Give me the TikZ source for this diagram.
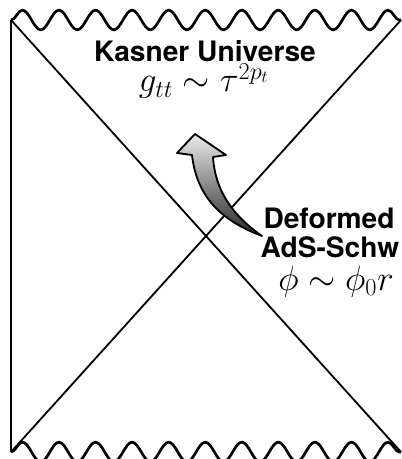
\documentclass[tikz,border=0pt]{standalone}
\usepackage{amsmath, amssymb}
\usepackage{graphicx, xcolor, tikz}
\usepackage{fontspec}
\setsansfont{TeX Gyre Heros}
\usetikzlibrary{decorations.pathmorphing,calc}
\tikzstyle{edge} = [line width=1.3pt, black]
\tikzstyle{sing} = [line width=1.9pt, black, decorate, decoration={snake, segment length=26, amplitude=7}]
\tikzstyle{arrowshade} = [draw=black, line width=1.3pt, line join=round, top color=gray!15, bottom color=black!85]
\tikzstyle{title} = [font=\sffamily\bfseries\fontsize{20}{22}\selectfont, anchor=base, inner sep=0pt]
\tikzstyle{formula} = [font=\fontsize{23}{26}\selectfont, anchor=base, inner sep=0pt]

\begin{document}
\begin{tikzpicture}[x=0.025cm, y=-0.025cm]
      \useasboundingbox (0,0) rectangle (401,459);
      % corners of the diagram
      \coordinate (tl) at (11,20);
      \coordinate (tr) at (401,20);
      \coordinate (bl) at (11,452);
      \coordinate (br) at (401,452);
      % singularities and boundary
      \draw [sing](tl)--(tr);
      \draw [sing](bl)--(br);
      \draw [edge](tl)--(bl);
      \draw [edge](tl)--(br);
      \draw [edge](tr)--(bl);
      % curved arrow
      \shade [arrowshade] (195,134) -- (226,155) -- (213,157)
            .. controls (215,190) and (232,215) .. (262,236)
            .. controls (225,222) and (197,200) .. (192,155)
            -- (177,153) -- cycle;
      % labels
      \node (kas)[title] at (205,62) {Kasner Universe};
      \node (gtt)[formula, font=\fontsize{26}{28}\selectfont] at (204,92) {$g_{tt}\sim\tau^{2p_t}$};
      \node (def)[title] at (329,228) {Deformed};
      \node (ads)[title] at (330,257) {AdS-Schw};
      \node (phi)[formula] at (336,290) {$\phi\sim\phi_0 r$};
\end{tikzpicture}
\end{document}
